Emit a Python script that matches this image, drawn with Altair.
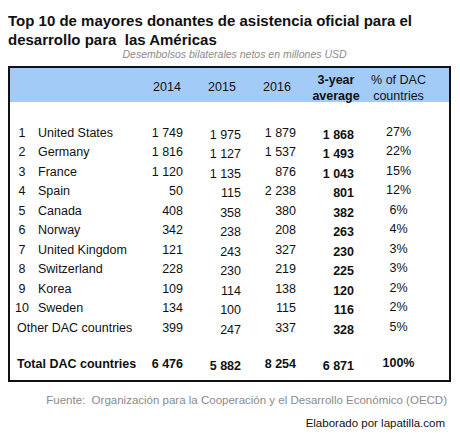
import altair as alt
import pandas as pd

# ---------------- data ----------------
ranks = [1, 2, 3, 4, 5, 6, 7, 8, 9, 10]
countries = ["United States", "Germany", "France", "Spain", "Canada", "Norway",
             "United Kingdom", "Switzerland", "Korea", "Sweden"]
y2014 = [1749, 1816, 1120, 50, 408, 342, 121, 228, 109, 134]
y2015 = [1975, 1127, 1135, 115, 358, 238, 243, 230, 114, 100]
y2016 = [1879, 1537, 876, 2238, 380, 208, 327, 219, 138, 115]
avg3 = [1868, 1493, 1043, 801, 382, 263, 230, 225, 120, 116]
pct_dac = [27, 22, 15, 12, 6, 4, 3, 3, 2, 2]

other_label = "Other DAC countries"
other_vals = [399, 247, 337, 328]
other_pct = 5
total_label = "Total DAC countries"
total_vals = [6476, 5882, 8254, 6871]
total_pct = 100

year_headers = ["2014", "2015", "2016"]
avg_header = ["3-year", "average"]
pct_header = ["% of DAC", "countries"]

title_lines = ["Top 10 de mayores donantes de asistencia oficial para el",
               "desarrollo para\u00a0 las Américas"]
subtitle = "Desembolsos bilaterales netos en millones USD"
source = "Fuente:\u00a0 Organización para la Cooperación y el Desarrollo Económico (OECD)"
credit = "Elaborado por lapatilla.com"

# ---------------- layout ----------------
FONT = "Liberation Sans"
W, H = 444, 423
COLS = ["label", "rank", "name", "h2014", "c2014", "h2015", "c2015",
        "h2016", "c2016", "havg", "cavg", "pct"]
COL_X = [9, 14, 30, 159, 175, 214, 233, 269, 288, 328, 346, 390.5]
ROW_PX = 19.5
FIRST_ROW_PX = 124.5
U_TOP = 1 - FIRST_ROW_PX / ROW_PX
U_BOT = 1 + (H - FIRST_ROW_PX) / ROW_PX
HEAD_U = -1.31
HEAD1_U = -1.67
HEAD2_U = -0.85
OTHER_U = 11
TOTAL_U = 12.85
DY = {"c2015": 2, "cavg": 2, "pct": -1}
ALIGN = {"label": "left", "name": "left", "rank": "center", "pct": "center",
         "h2014": "center", "h2015": "center", "h2016": "center", "havg": "center",
         "c2014": "right", "c2015": "right", "c2016": "right", "cavg": "right"}


def fmt(v):
    return f"{v:,}".replace(",", " ")


recs = []


def add(col, u, text, bold=False):
    recs.append({"xi": COLS.index(col), "col": col, "u": u, "text": text, "bold": bold})


num_cols = ["c2014", "c2015", "c2016", "cavg"]
for i in range(len(countries)):
    u = i + 1
    add("rank", u, str(ranks[i]))
    add("name", u, countries[i])
    for c, arr in zip(num_cols, [y2014, y2015, y2016, avg3]):
        add(c, u, fmt(arr[i]), bold=(c == "cavg"))
    add("pct", u, f"{pct_dac[i]}%")

add("label", OTHER_U, other_label)
for c, v in zip(num_cols, other_vals):
    add(c, OTHER_U, fmt(v), bold=(c == "cavg"))
add("pct", OTHER_U, f"{other_pct}%")

add("label", TOTAL_U, total_label, bold=True)
for c, v in zip(num_cols, total_vals):
    add(c, TOTAL_U, fmt(v), bold=True)
add("pct", TOTAL_U, f"{total_pct}%", bold=True)

for c, t in zip(["h2014", "h2015", "h2016"], year_headers):
    add(c, HEAD_U, t)
add("havg", HEAD1_U, avg_header[0], bold=True)
add("havg", HEAD2_U, avg_header[1], bold=True)
add("pct", HEAD1_U, pct_header[0])
add("pct", HEAD2_U, pct_header[1])

df = pd.DataFrame(recs)
df["dy"] = df["col"].map(lambda c: DY.get(c, 0))
df.loc[df["u"] < 0, "dy"] = 0
df["align"] = df["col"].map(ALIGN)
df["style"] = df["align"] + "|" + df["bold"].astype(str) + "|" + df["dy"].astype(str)

X = alt.X("xi:Q", axis=None,
          scale=alt.Scale(domain=list(range(len(COLS))), range=COL_X, nice=False, zero=False))
Y = alt.Y("u:Q", axis=None,
          scale=alt.Scale(domain=[U_TOP, U_BOT], reverse=True, nice=False, zero=False))

base = alt.Chart(df)
layers = []

one = pd.DataFrame({"k": [0]})
band = alt.Chart(one).mark_rect(color="#a3cbf7").encode(
    x=alt.value(1), x2=alt.value(442), y=alt.value(60), y2=alt.value(94))
frame = alt.Chart(one).mark_rect(fill=None, stroke="#111111", strokeWidth=2).encode(
    x=alt.value(1), x2=alt.value(442), y=alt.value(59), y2=alt.value(373))
layers += [band, frame]

for s in sorted(df["style"].unique()):
    a, b, d = s.split("|")
    layers.append(
        base.transform_filter(alt.datum.style == s)
        .mark_text(align=a, fontWeight="bold" if b == "True" else "normal",
                   dy=int(d), font=FONT, fontSize=12.5, color="#111111")
        .encode(x=X, y=Y, text="text:N")
    )


def note(text, x, y, size, align="left", weight="normal", style="normal", color="#111111"):
    return alt.Chart(one).mark_text(
        align=align, baseline="middle", font=FONT, fontSize=size,
        fontWeight=weight, fontStyle=style, color=color
    ).encode(x=alt.value(x), y=alt.value(y), text=alt.value(text))


layers += [
    note(title_lines[0], 0, 13, 15, weight="bold"),
    note(title_lines[1], 0, 32, 15, weight="bold"),
    note(subtitle, 226.5, 47, 10.5, align="center", style="italic", color="#8c8c8c"),
    note(source, 439, 393, 11.5, align="right", color="#8a8a8a"),
    note(credit, 437, 415.5, 11.5, align="right"),
]

chart = alt.layer(*layers).properties(
    width=W, height=H, padding=0,
    autosize=alt.AutoSizeParams(type="none"),
).configure_view(stroke=None)

chart.save("out.html", embed_options={"renderer": "svg", "actions": False})
